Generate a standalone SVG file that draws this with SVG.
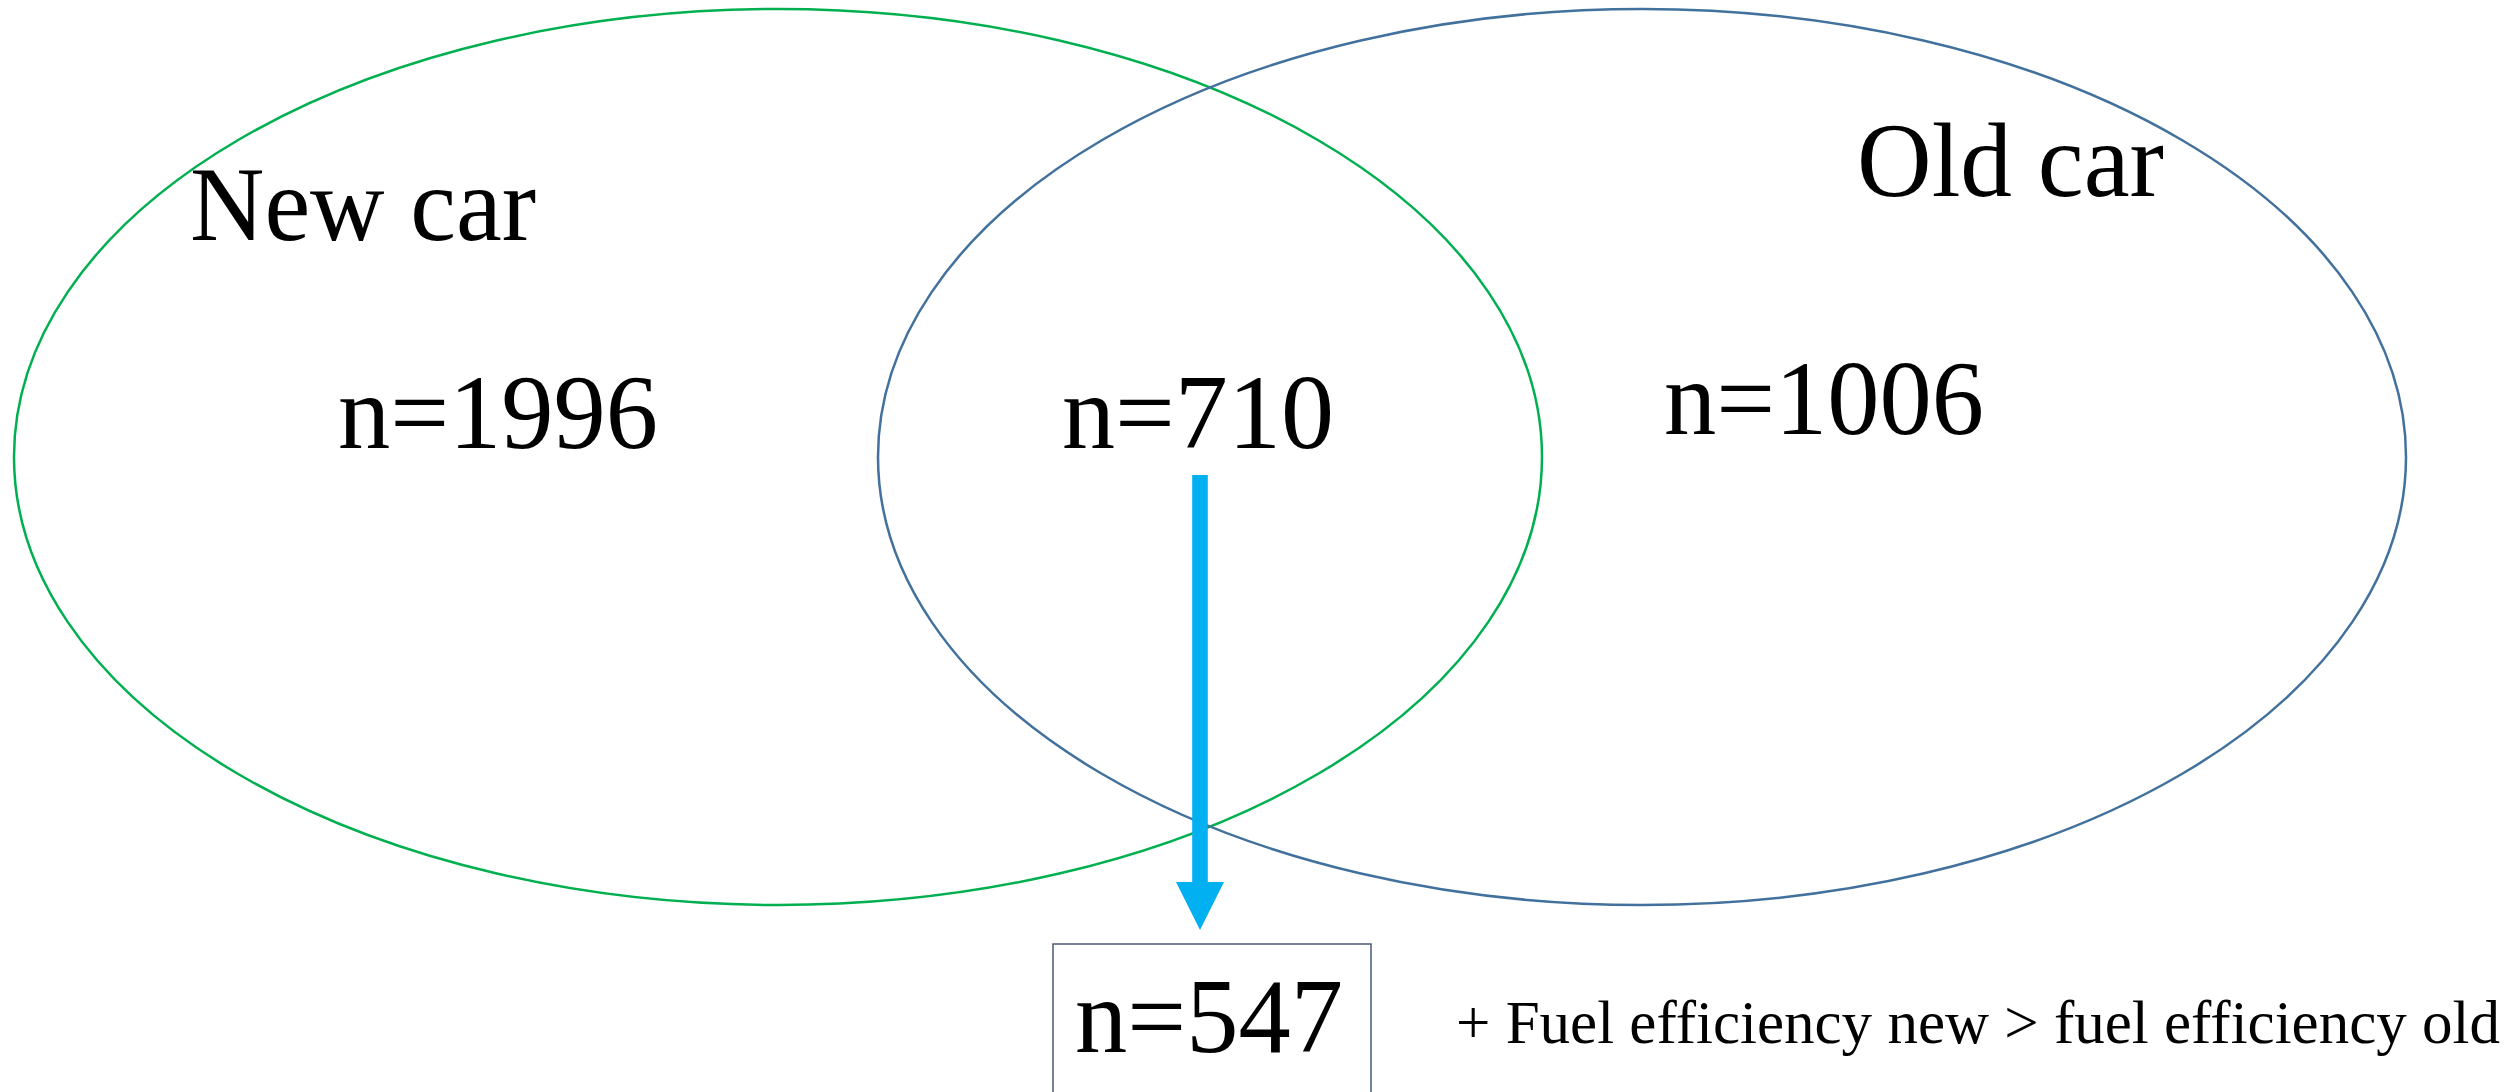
<svg xmlns="http://www.w3.org/2000/svg" width="2517" height="1092" viewBox="0 0 2517 1092">
  <defs>
    <style>
      .t { font-family: "Liberation Serif", "Times New Roman", serif; fill: #000; }
      .big { font-size: 105px; }
      .note { font-size: 61px; }
      .set { fill: none; stroke-width: 2.5; }
    </style>
    <marker id="head" viewBox="0 0 48 48" markerWidth="48" markerHeight="48" refX="0" refY="24" orient="auto" markerUnits="userSpaceOnUse">
      <path d="M0,0 L48,24 L0,48 Z" fill="#00B0F0"/>
    </marker>
  </defs>
  <rect width="2517" height="1092" fill="#fff"/>

  <g id="new-car">
    <ellipse class="set" cx="778" cy="457" rx="764" ry="448" stroke="#00B050"/>
    <text class="t big" x="190" y="240" textLength="346" lengthAdjust="spacingAndGlyphs">New car</text>
    <text class="t big" x="338" y="448" textLength="320" lengthAdjust="spacingAndGlyphs">n=1996</text>
  </g>

  <g id="old-car">
    <ellipse class="set" cx="1642" cy="457" rx="764" ry="448" stroke="#41719C"/>
    <text class="t big" x="1857" y="196" textLength="307" lengthAdjust="spacingAndGlyphs">Old car</text>
    <text class="t big" x="1664" y="434" textLength="320" lengthAdjust="spacingAndGlyphs">n=1006</text>
  </g>

  <g id="overlap">
    <text class="t big" x="1062" y="448" textLength="272" lengthAdjust="spacingAndGlyphs">n=710</text>
  </g>

  <g id="connectors">
    <line x1="1200" y1="475" x2="1200" y2="882" stroke="#00B0F0" stroke-width="15.6" marker-end="url(#head)"/>
  </g>

  <g id="result">
    <rect x="1053" y="944" width="318" height="170" fill="none" stroke="#4A5A75" stroke-width="1.5"/>
    <text class="t big" x="1075" y="1052" textLength="268" lengthAdjust="spacingAndGlyphs">n=547</text>
  </g>

  <g id="note">
    <text class="t note" x="1456" y="1043" textLength="1044" lengthAdjust="spacingAndGlyphs">+ Fuel efficiency new &gt; fuel efficiency old</text>
  </g>
</svg>
